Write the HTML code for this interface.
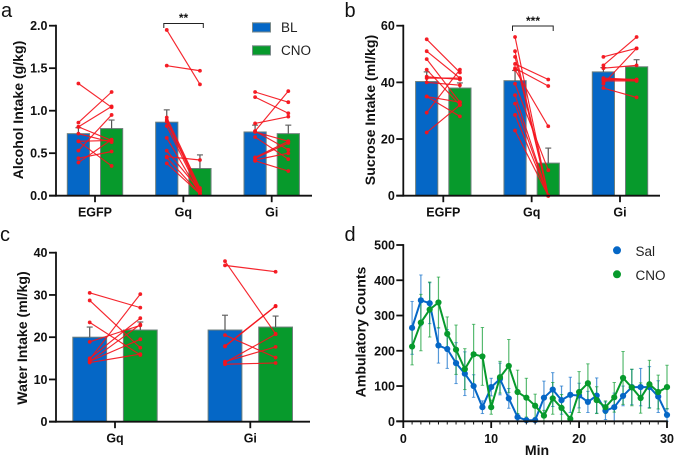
<!DOCTYPE html>
<html>
<head>
<meta charset="utf-8">
<title>Intake and ambulatory charts</title>
<style>
html,body{margin:0;padding:0;background:#fff;width:674px;height:456px;overflow:hidden}
svg{display:block;filter:blur(.3px)}
text{font-family:"Liberation Sans",sans-serif;fill:#111}
.tick{font-weight:bold;font-size:12.5px}
.title{font-weight:bold;font-size:14.1px}
.leg{font-size:13.5px;fill:#222}
.pl{font-size:20px;fill:#111}
</style>
</head>
<body>
<svg id="fig" xmlns="http://www.w3.org/2000/svg" width="674" height="456" viewBox="0 0 674 456">
  <text class="pl" x="1" y="17">a</text>
  <text class="pl" x="344.5" y="17">b</text>
  <text class="pl" x="0" y="241">c</text>
  <text class="pl" x="344.5" y="241">d</text>

  <g id="panelA"></g>
  <g id="panelB"></g>
  <g id="panelC"></g>
  <g id="panelD"></g>

  <text class="title" transform="translate(23,110) rotate(-90)" text-anchor="middle">Alcohol Intake (g/kg)</text>
  <text class="title" transform="translate(375,110) rotate(-90)" text-anchor="middle">Sucrose Intake (ml/kg)</text>
  <text class="title" transform="translate(27,338) rotate(-90)" text-anchor="middle">Water Intake (ml/kg)</text>
  <text class="title" transform="translate(365.5,332) rotate(-90)" text-anchor="middle">Ambulatory Counts</text>
  <text class="title" x="537" y="455" text-anchor="middle">Min</text>

  <g>
    <rect x="252.5" y="22.8" width="18" height="9.2" fill="#0567c6" stroke="#7b8a8a" stroke-width="1"></rect>
    <text class="leg" x="281" y="32">BL</text>
    <rect x="252.5" y="45.8" width="18" height="9.2" fill="#079a2c" stroke="#7b8a8a" stroke-width="1"></rect>
    <text class="leg" x="281" y="55">CNO</text>
  </g>
  <g>
    <circle cx="617" cy="250.3" r="4" fill="#0567c6"></circle>
    <text class="leg" x="635.5" y="256">Sal</text>
    <circle cx="617" cy="274.3" r="4" fill="#079a2c"></circle>
    <text class="leg" x="635.5" y="280">CNO</text>
  </g>

  <g>
    <path d="M163.8 28V23.5H203.3V28" fill="none" stroke="#222" stroke-width="1"></path>
    <text x="183.5" y="22" font-size="12" font-weight="bold" text-anchor="middle">**</text>
  </g>
  <g>
    <path d="M512.5 31V26H553.2V31" fill="none" stroke="#222" stroke-width="1"></path>
    <text x="533" y="25" font-size="12" font-weight="bold" text-anchor="middle">***</text>
  </g>
</svg>

<script>
// ---------- Panel a: alcohol intake ----------
const alcoholCategories = ["EGFP", "Gq", "Gi"];
const alcoholTicks = [0, 0.5, 1.0, 1.5, 2.0];
const alcoholBL = [0.73, 0.865, 0.75];
const alcoholCNO = [0.79, 0.32, 0.73];
const alcoholBLErr = [0.07, 0.145, 0.08];
const alcoholCNOErr = [0.10, 0.16, 0.10];
const alcoholPairsBL = [
  [1.32, 0.86, 0.81, 0.81, 0.73, 0.64, 0.64, 0.53, 0.44, 0.39],
  [1.95, 1.53, 0.92, 0.89, 0.87, 0.82, 0.68, 0.53, 0.46, 0.45, 0.38],
  [1.22, 1.16, 0.85, 0.76, 0.76, 0.75, 0.69, 0.45, 0.44, 0.42, 0.41]
];
const alcoholPairsCNO = [
  [1.04, 1.22, 1.05, 0.65, 0.63, 0.35, 0.65, 0.95, 0.52, 0.66],
  [1.31, 1.47, 0.09, 0.07, 0.05, 0.03, 0.02, 0.06, 0.42, 0.02, 0.02],
  [1.10, 0.97, 0.93, 1.23, 0.54, 0.64, 0.43, 0.64, 0.62, 0.50, 0.29]
];

// ---------- Panel b: sucrose intake ----------
const sucroseCategories = ["EGFP", "Gq", "Gi"];
const sucroseTicks = [0, 20, 40, 60];
const sucroseBL = [40.3, 40.6, 43.7];
const sucroseCNO = [38, 11.5, 45.5];
const sucroseBLErr = [3.4, 3.6, 1.5];
const sucroseCNOErr = [1.8, 5.3, 2.5];
const sucrosePairsBL = [
  [55.2, 51, 48.2, 44.5, 42, 41.5, 40, 35, 35, 29.3, 22.3],
  [56, 51, 49, 46.5, 45, 44.5, 39.5, 35.5, 32.5, 28.5, 23],
  [49, 46, 45, 41.5, 41, 41, 40.5, 39.5, 38]
];
const sucrosePairsCNO = [
  [43.5, 41.5, 33, 32, 41, 41.5, 39, 28, 33, 44.5, 32],
  [0, 0, 0, 41, 38.7, 24.5, 9, 0, 0, 0, 0],
  [52, 56, 46, 41, 41, 40.8, 40.5, 52, 34.7]
];

// ---------- Panel c: water intake ----------
const waterCategories = ["Gq", "Gi"];
const waterTicks = [0, 10, 20, 30, 40];
const waterBL = [20, 21.7];
const waterCNO = [21.7, 22.4];
const waterBLErr = [2.4, 3.5];
const waterCNOErr = [1.9, 2.6];
const waterPairsBL = [
  [30.5, 28.7, 23.5, 18.9, 15, 14.8, 14.3, 14.2, 14],
  [38, 37, 20.5, 17.9, 17.8, 14.2, 14, 13.6]
];
const waterPairsCNO = [
  [27, 17.5, 15.8, 22.8, 24.5, 30.2, 19.5, 23, 16],
  [20.8, 35.5, 15.2, 27.4, 27.3, 17.7, 20.7, 13.9]
];

// ---------- Panel d: ambulatory counts ----------
const minutes = [1,2,3,4,5,6,7,8,9,10,11,12,13,14,15,16,17,18,19,20,21,22,23,24,25,26,27,28,29,30];
const activityXTicks = [0, 10, 20, 30];
const activityYTicks = [0, 100, 200, 300, 400, 500];
const salCounts = [265,343,335,215,205,165,135,100,40,97,120,65,12,3,3,67,90,60,75,73,55,73,30,40,72,97,97,97,70,18];
const salErr = [75,72,58,50,55,58,62,32,18,25,45,28,10,3,3,47,48,40,50,35,30,50,25,40,28,50,53,58,45,18];
const cnoCounts = [212,280,317,337,248,203,148,190,184,40,125,157,83,67,44,16,65,38,7,83,108,60,40,68,123,96,66,105,83,97];
const cnoErr = [52,80,78,72,48,70,58,85,82,20,45,75,62,55,33,15,45,38,7,58,55,38,18,42,75,52,43,68,48,62];

const SVGNS = "http://www.w3.org/2000/svg";
const BLUE = "#0567c6", GREEN = "#079a2c", RED = "#f4141c";

function mk(parent, tag, attrs, txt) {
  const el = document.createElementNS(SVGNS, tag);
  for (const k in attrs) el.setAttribute(k, attrs[k]);
  if (txt !== undefined) el.textContent = txt;
  parent.appendChild(el);
  return el;
}
function seg(parent, x1, y1, x2, y2, color, w, extra) {
  return mk(parent, "line", Object.assign({x1, y1, x2, y2, stroke: color, "stroke-width": w}, extra || {}));
}

function drawBarPanel(parent, key, cats, ticks, fmt, bl, cno, blErr, cnoErr, pBL, pCNO, sc) {
  const y = v => sc.y0 - v * sc.k;
  const xc = i => sc.x0 + i * sc.step;
  cats.forEach((cat, i) => {
    [[bl, blErr, BLUE, -1, "bl", pBL], [cno, cnoErr, GREEN, 1, "cno", pCNO]].forEach(s => {
      const cx = xc(i) + s[3] * sc.off;
      const r = mk(parent, "rect", {x: cx - sc.bw / 2, y: y(s[0][i]), width: sc.bw, height: y(0) - y(s[0][i]), fill: s[2], stroke: "#6f7f7c", "stroke-width": 1});
      
      
      const top = y(s[0][i] + s[1][i]);
      const e = seg(parent, cx, y(s[0][i]), cx, top, "#555", 1.2);
      
      
      const c = seg(parent, cx - 3, top, cx + 3, top, "#666", 1.2);
      
      
    });
  });
  cats.forEach((cat, i) => {
    const x1 = xc(i) - sc.off, x2 = xc(i) + sc.off;
    pBL[i].forEach((v, j) => {
      const w = pCNO[i][j];
      const l = seg(parent, x1, y(v), x2, y(w), RED, 1.15, {"stroke-opacity": 0.92});
      
      
      const a = mk(parent, "circle", {cx: x1, cy: y(v), r: 1.9, fill: RED, "fill-opacity": 0.95});
      
      
      const b = mk(parent, "circle", {cx: x2, cy: y(w), r: 1.9, fill: RED, "fill-opacity": 0.95});
      
      
    });
  });
  // axes
  const ya = seg(parent, sc.ax, y(ticks[ticks.length - 1]) - 0.9, sc.ax, sc.y0 + 0.9, "#111", 1.8);
  
  
  const xa = seg(parent, sc.ax - 7, sc.y0, sc.xEnd, sc.y0, "#111", 1.8);
  
  
  ticks.forEach(t => {
    const tk = seg(parent, sc.ax - 7, y(t), sc.ax, y(t), "#111", 1.8);
    
    
    const lb = mk(parent, "text", {class: "tick", x: sc.ax - 8.5, y: y(t) + 4.5, "text-anchor": "end"}, fmt(t));
    
    
  });
  cats.forEach((cat, i) => {
    const tk = seg(parent, xc(i), sc.y0, xc(i), sc.y0 + 6.5, "#111", 1.8);
    
    
    const lb = mk(parent, "text", {class: "tick", x: xc(i), y: sc.y0 + 21, "text-anchor": "middle"}, cat);
    
    
  });
}

drawBarPanel(document.getElementById("panelA"), "alcohol", alcoholCategories, alcoholTicks, t => t.toFixed(1),
  alcoholBL, alcoholCNO, alcoholBLErr, alcoholCNOErr, alcoholPairsBL, alcoholPairsCNO,
  {y0: 195.7, k: 85, x0: 95, step: 88.35, off: 16.6, bw: 22.2, ax: 56, xEnd: 312});
drawBarPanel(document.getElementById("panelB"), "sucrose", sucroseCategories, sucroseTicks, t => String(t),
  sucroseBL, sucroseCNO, sucroseBLErr, sucroseCNOErr, sucrosePairsBL, sucrosePairsCNO,
  {y0: 195.7, k: 2.8333, x0: 443.3, step: 88.35, off: 16.6, bw: 22.2, ax: 403.3, xEnd: 660});
drawBarPanel(document.getElementById("panelC"), "water", waterCategories, waterTicks, t => String(t),
  waterBL, waterCNO, waterBLErr, waterCNOErr, waterPairsBL, waterPairsCNO,
  {y0: 421.7, k: 4.225, x0: 115, step: 135.3, off: 25.3, bw: 33.8, ax: 56, xEnd: 310});

// Panel d
(function () {
  const g = document.getElementById("panelD");
  const x = m => 403.3 + m * 8.79;
  const y = v => 421.3 - v * 0.3526;
  [[salCounts, salErr, BLUE, "sal"], [cnoCounts, cnoErr, GREEN, "cno"]].forEach(s => {
    minutes.forEach((m, i) => {
      const top = y(s[0][i] + s[1][i]), bot = y(Math.max(0, s[0][i] - s[1][i]));
      const e = seg(g, x(m), top, x(m), bot, s[2], 1.2, {"stroke-opacity": 0.68});
      
      
      const c1 = seg(g, x(m) - 1.7, top, x(m) + 1.7, top, s[2], 1, {"stroke-opacity": 0.62});
      
      
      const c2 = seg(g, x(m) - 1.7, bot, x(m) + 1.7, bot, s[2], 1, {"stroke-opacity": 0.62});
      
      
    });
  });
  [[salCounts, BLUE, "sal"], [cnoCounts, GREEN, "cno"]].forEach(s => {
    const pl = mk(g, "polyline", {points: minutes.map((m, i) => x(m) + "," + y(s[0][i])).join(" "), fill: "none", stroke: s[1], "stroke-width": 2, "stroke-linejoin": "round"});
    
    
    minutes.forEach((m, i) => {
      const p = mk(g, "circle", {cx: x(m), cy: y(s[0][i]), r: 3.1, fill: s[1]});
      
      
    });
  });
  const ya = seg(g, 403.3, 244.1, 403.3, 422.2, "#111", 1.8);
  
  
  const xa = seg(g, 396.3, 421.3, 667.8, 421.3, "#111", 1.8);
  
  
  activityYTicks.forEach(t => {
    const tk = seg(g, 396.3, y(t), 403.3, y(t), "#111", 1.8);
    
    
    const lb = mk(g, "text", {class: "tick", x: 395, y: y(t) + 4.5, "text-anchor": "end"}, String(t));
    
    
  });
  minutes.forEach(m => {
    const tk = seg(g, x(m), 421.3, x(m), 424.5, "#111", 1);
    
    
  });
  activityXTicks.forEach(t => {
    const tk = seg(g, x(t), 421.3, x(t), 428, "#111", 1.8);
    
    
    const lb = mk(g, "text", {class: "tick", x: x(t), y: 443, "text-anchor": "middle"}, String(t));
    
    
  });
})();
</script>
</body>
</html>
